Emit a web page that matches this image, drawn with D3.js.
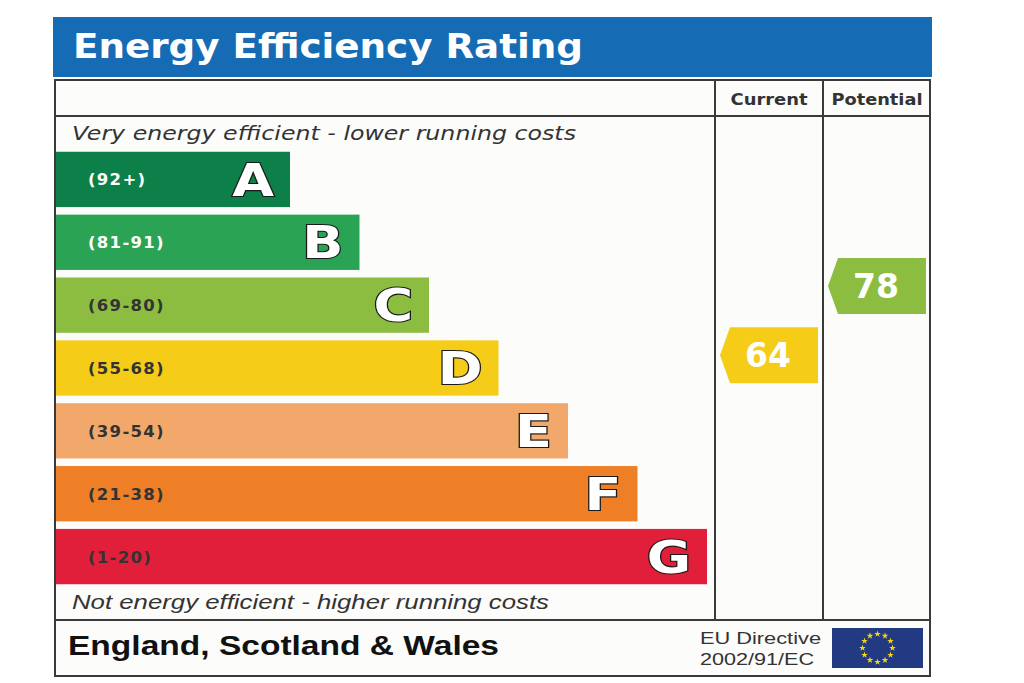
<!DOCTYPE html>
<html>
<head>
<meta charset="utf-8">
<script src="https://cdn.jsdelivr.net/npm/d3@7"></script>
<style>
  body { margin: 0; background: #fff; }
  svg { display: block; }
  .bold { font-family: "Liberation Sans", Arial, sans-serif; font-weight: bold; }
  .heavy { font-family: "DejaVu Sans", Verdana, sans-serif; font-weight: bold; }
</style>
</head>
<body>
<div id="chart"></div>
<script>
// --- Data ---
const bands = ["A", "B", "C", "D", "E", "F", "G"];
const bandRanges = ["(92+)", "(81-91)", "(69-80)", "(55-68)", "(39-54)", "(21-38)", "(1-20)"];
const bandMin = [92, 81, 69, 55, 39, 21, 1];
const bandColors = ["#0c8048", "#2ba354", "#8cbd41", "#f5cc18", "#f2a86b", "#ee7f26", "#e11f3b"];
const rangeTextColors = ["#fff", "#fff", "#333", "#333", "#333", "#333", "#333"];
const ratingColumns = ["Current", "Potential"];
const ratingValues = [64, 78];

// --- Layout ---
const W = 1024, H = 683;
const box = { left: 55, right: 930, top: 80, bottom: 676 };
const headerBottom = 116, footerTop = 620;

const svg = d3.select("#chart").append("svg").attr("width", W).attr("height", H);

// scales
const yBand = d3.scaleBand().domain(bands).range([148, 588]).paddingInner(0.12).paddingOuter(0.06);
const barEnd = d3.scaleLinear().domain([0, bands.length - 1]).range([290, 707]);
const colX = d3.scaleBand().domain(ratingColumns).range([715, 931]);
const scoreY = d3.scaleLinear().domain([1, 100]).range([668, 176.7]);

const bandOf = v => bands[bandMin.findIndex(m => v >= m)];
const colorOf = v => bandColors[bands.indexOf(bandOf(v))];

// title bar
svg.append("rect").attr("x", 53).attr("y", 17).attr("width", 879).attr("height", 60).attr("fill", "#166cb4");
svg.append("text").attr("class", "heavy").attr("x", 73).attr("y", 58)
  .attr("font-size", 34).attr("fill", "#fff")
  .attr("textLength", 510).attr("lengthAdjust", "spacingAndGlyphs")
  .text("Energy Efficiency Rating");

// frame
svg.append("rect").attr("x", box.left).attr("y", box.top)
  .attr("width", box.right - box.left).attr("height", box.bottom - box.top)
  .attr("fill", "#fcfcfb").attr("stroke", "#3a3a3a").attr("stroke-width", 2);
svg.append("line").attr("x1", box.left).attr("x2", box.right).attr("y1", headerBottom).attr("y2", headerBottom)
  .attr("stroke", "#3a3a3a").attr("stroke-width", 2);
svg.append("line").attr("x1", box.left).attr("x2", box.right).attr("y1", footerTop).attr("y2", footerTop)
  .attr("stroke", "#3a3a3a").attr("stroke-width", 2);
svg.selectAll("line.col").data(ratingColumns).join("line").attr("class", "col")
  .attr("x1", d => colX(d)).attr("x2", d => colX(d))
  .attr("y1", box.top).attr("y2", footerTop)
  .attr("stroke", "#3a3a3a").attr("stroke-width", 2);

// column headers
svg.selectAll("text.colhead").data(ratingColumns).join("text").attr("class", "colhead heavy")
  .attr("x", d => colX(d) + colX.bandwidth() / 2).attr("y", 105)
  .attr("text-anchor", "middle").attr("font-size", 16).attr("fill", "#333")
  .attr("textLength", d => d === "Current" ? 77 : 91).attr("lengthAdjust", "spacingAndGlyphs")
  .text(d => d);

// italic captions
svg.append("text").attr("x", 72).attr("y", 140)
  .attr("font-family", "'DejaVu Sans', sans-serif").attr("font-style", "italic")
  .attr("font-size", 19).attr("fill", "#333")
  .attr("textLength", 504).attr("lengthAdjust", "spacingAndGlyphs")
  .text("Very energy efficient - lower running costs");
svg.append("text").attr("x", 72).attr("y", 609)
  .attr("font-family", "'Liberation Sans', Arial, sans-serif").attr("font-style", "italic")
  .attr("font-size", 20).attr("fill", "#333")
  .attr("textLength", 477).attr("lengthAdjust", "spacingAndGlyphs")
  .text("Not energy efficient - higher running costs");

// bars
const bar = svg.selectAll("g.band").data(bands).join("g").attr("class", "band")
  .attr("transform", d => `translate(0,${yBand(d)})`);
bar.append("rect").attr("x", 56).attr("y", 0)
  .attr("width", (d, i) => barEnd(i) - 56).attr("height", yBand.bandwidth())
  .attr("fill", (d, i) => bandColors[i]);
bar.append("text").attr("class", "heavy")
  .attr("x", 88).attr("y", yBand.bandwidth() / 2).attr("dy", "0.36em")
  .attr("font-size", 16.5).attr("letter-spacing", 1.3)
  .attr("fill", (d, i) => rangeTextColors[i])
  .text((d, i) => bandRanges[i]);
// band letters, stretched a little wider like the original's heavy face
bar.append("g")
  .attr("transform", (d, i) => `translate(${barEnd(i) - 16},${yBand.bandwidth() / 2}) scale(1.2,1)`)
  .append("text").attr("class", "heavy")
  .attr("dy", "0.36em")
  .attr("text-anchor", "end").attr("font-size", 45)
  .attr("fill", "#fff").attr("stroke", "#1a1a1a").attr("stroke-width", 2.2)
  .attr("paint-order", "stroke")
  .text(d => d);

// rating arrows
const arrowH = 56, notch = 10;
const arrow = svg.selectAll("g.rating").data(ratingColumns).join("g").attr("class", "rating")
  .attr("transform", (d, i) => `translate(${colX(d) + 5},${scoreY(ratingValues[i]) - arrowH / 2})`);
arrow.append("path")
  .attr("d", `M0,${arrowH / 2}L${notch},0H98V${arrowH}H${notch}Z`)
  .attr("fill", (d, i) => colorOf(ratingValues[i]));
arrow.append("text").attr("class", "heavy")
  .attr("x", 48).attr("y", arrowH / 2).attr("dy", "0.36em")
  .attr("text-anchor", "middle").attr("font-size", 33).attr("fill", "#fff")
  .text((d, i) => ratingValues[i]);

// footer
svg.append("text").attr("class", "bold").attr("x", 68).attr("y", 655)
  .attr("font-size", 28).attr("fill", "#111")
  .attr("textLength", 431).attr("lengthAdjust", "spacingAndGlyphs")
  .text("England, Scotland & Wales");
svg.append("text").attr("x", 700).attr("y", 644)
  .attr("font-family", "'Liberation Sans', Arial, sans-serif").attr("font-size", 17).attr("fill", "#333")
  .attr("textLength", 121).attr("lengthAdjust", "spacingAndGlyphs")
  .text("EU Directive");
svg.append("text").attr("x", 700).attr("y", 665)
  .attr("font-family", "'Liberation Sans', Arial, sans-serif").attr("font-size", 17).attr("fill", "#333")
  .attr("textLength", 114).attr("lengthAdjust", "spacingAndGlyphs")
  .text("2002/91/EC");

// EU flag
const flag = { x: 832, y: 628, w: 91, h: 40 };
svg.append("rect").attr("x", flag.x).attr("y", flag.y).attr("width", flag.w).attr("height", flag.h).attr("fill", "#223a82");
const star = d3.symbol().type(d3.symbolStar).size(14);
svg.selectAll("path.star").data(d3.range(12)).join("path").attr("class", "star")
  .attr("d", star)
  .attr("transform", d => {
    const a = d / 12 * 2 * Math.PI;
    return `translate(${flag.x + flag.w / 2 + 15 * Math.sin(a)},${flag.y + flag.h / 2 - 14 * Math.cos(a)})`;
  })
  .attr("fill", "#f7d417");
</script>
</body>
</html>
